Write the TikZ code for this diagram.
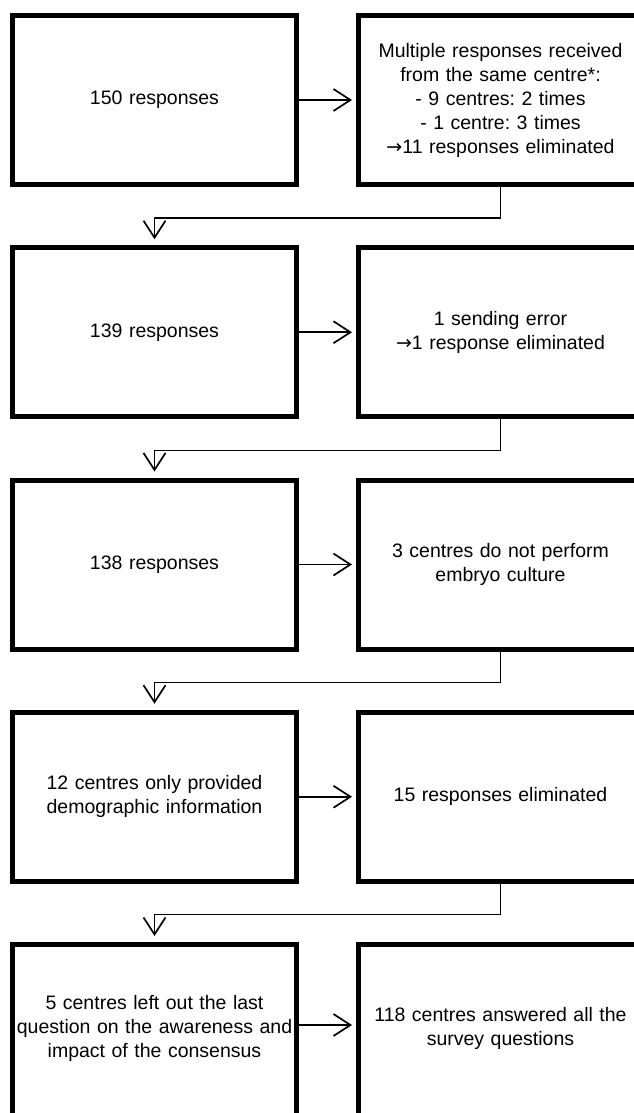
\documentclass[tikz,border=0pt]{standalone}
\usepackage{fontspec}
\setmainfont{Liberation Sans}
\newfontfamily\arrowfont{DejaVu Sans}
\newcommand{\elim}{{\arrowfont\fontsize{19}{24}\selectfont →}}
\usetikzlibrary{arrows.meta}
\begin{document}
\begin{tikzpicture}[x=1pt,y=-1pt,
  stepbox/.style={draw=black, line width=5pt, miter limit=10,
    minimum width=282pt, minimum height=169pt, inner sep=2pt,
    align=center, text width=280pt,
    font=\fontsize{19.5}{24}\selectfont\frenchspacing},
  lastbox/.style={stepbox, minimum height=185pt},
  flow/.style={line width=1.7pt, -{Straight Barb[length=17pt,width=22pt,line width=1.7pt]}},
  link/.style={line width=1.4pt, -{Straight Barb[length=17pt,width=22pt,line width=1.7pt]}}
]
\useasboundingbox (0,0) rectangle (633,1113);
\fill[white] (0,0) rectangle (633,1113);

% left column
\node[stepbox] (l1) at (154.5,100) {150 responses};
\node[stepbox] (l2) at (154.5,332.25) {139 responses};
\node[stepbox] (l3) at (154.5,564.5) {138 responses};
\node[stepbox] (l4) at (154.5,796.75) {12 centres only provided\\demographic information};
\node[lastbox] (l5) at (154.5,1037) {5 centres left out the last\\question on the awareness and\\impact of the consensus\\[-2pt]\mbox{}};

% right column
\node[stepbox] (r1) at (500.5,100) {Multiple responses received\\from the same centre*:\\- 9 centres: 2 times\\- 1 centre: 3 times\\\elim11 responses eliminated};
\node[stepbox] (r2) at (500.5,332.25) {1 sending error\\\elim1 response eliminated};
\node[stepbox] (r3) at (500.5,564.5) {3 centres do not perform\\embryo culture};
\node[stepbox] (r4) at (500.5,796.75) {15 responses eliminated};
\node[lastbox] (r5) at (500.5,1037) {118 centres answered all the\\survey questions\\[-2pt]\mbox{}};

% exclusions to the right
\foreach \i in {1,...,4}
  \draw[flow, shorten >=4pt] (l\i.east) -- (r\i.west);
\draw[flow, shorten >=4pt] (l5.east) ++(0,-12) coordinate (a5) -- (a5 -| r5.west);

% back to the next step
\foreach \i/\j in {1/2,2/3,3/4,4/5}
  \draw[link, shorten >=6pt] (r\i.south) -- ++(0,31) -| (l\j.north);
\end{tikzpicture}
\end{document}
